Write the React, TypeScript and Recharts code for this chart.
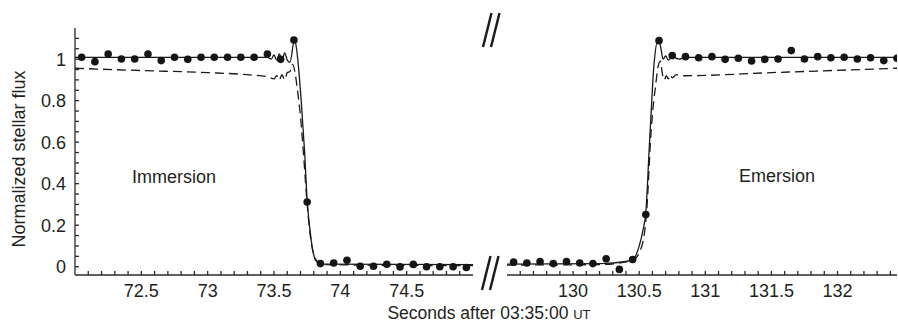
import React from 'react';
import { ComposedChart, Line, Scatter, XAxis, YAxis } from 'recharts';

const FONT = '"Liberation Sans", Arial, Helvetica, sans-serif';
const INK = '#231f20';

// measured flux, 0.1 s samples
const immersionTimes = [72.05, 72.15, 72.25, 72.35, 72.45, 72.55, 72.65, 72.75, 72.85, 72.95, 73.05, 73.15, 73.25, 73.35, 73.45, 73.55, 73.65, 73.75, 73.85, 73.95, 74.05, 74.15, 74.25, 74.35, 74.45, 74.55, 74.65, 74.75, 74.85, 74.95];
const immersionFlux = [1.009, 0.988, 1.025, 1.001, 1.001, 1.025, 0.993, 1.009, 0.999, 1.009, 1.009, 1.009, 1.009, 1.009, 1.025, 0.999, 1.092, 0.312, 0.015, 0.018, 0.031, 0.002, 0.002, 0.012, -0.001, 0.011, 0.0, 0.0, 0.0, -0.004];

const emersionTimes = [129.55, 129.65, 129.75, 129.85, 129.95, 130.05, 130.15, 130.25, 130.35, 130.45, 130.55, 130.65, 130.75, 130.85, 130.95, 131.05, 131.15, 131.25, 131.35, 131.45, 131.55, 131.65, 131.75, 131.85, 131.95, 132.05, 132.15, 132.25, 132.35, 132.45];
const emersionFlux = [0.022, 0.018, 0.025, 0.015, 0.025, 0.018, 0.015, 0.038, -0.013, 0.035, 0.251, 1.089, 1.017, 1.012, 1.007, 1.012, 0.999, 1.004, 0.991, 0.999, 1.001, 1.041, 1.001, 1.012, 1.007, 1.009, 1.001, 1.007, 0.993, 1.004];

// fitted model (solid)
const immersionModelTimes = [72.0, 73.45, 73.48, 73.5, 73.52, 73.54, 73.56, 73.58, 73.6, 73.62, 73.655, 73.67, 73.685, 73.705, 73.73, 73.75, 73.78, 73.815, 73.86, 75.0];
const immersionModelFlux = [1.008, 1.008, 1.0, 1.02, 0.995, 1.025, 0.99, 1.03, 0.995, 0.985, 1.095, 1.05, 0.96, 0.8, 0.56, 0.32, 0.13, 0.03, 0.012, 0.01];

// model without the extra term (dashed)
const immersionAltTimes = [72.0, 72.5, 73.0, 73.3, 73.45, 73.5, 73.52, 73.54, 73.56, 73.58, 73.6, 73.62, 73.64, 73.66, 73.675, 73.7, 73.725, 73.75, 73.78, 73.82, 73.86, 75.0];
const immersionAltFlux = [0.956, 0.945, 0.935, 0.925, 0.915, 0.905, 0.92, 0.9, 0.925, 0.9, 0.935, 0.94, 0.975, 0.93, 0.86, 0.72, 0.52, 0.3, 0.12, 0.03, 0.01, 0.005];

const emersionModelTimes = [129.5, 130.2, 130.4, 130.46, 130.5, 130.53, 130.55, 130.575, 130.595, 130.61, 130.645, 130.665, 130.68, 130.7, 130.72, 130.75, 130.8, 130.85, 132.45];
const emersionModelFlux = [0.012, 0.015, 0.025, 0.04, 0.1, 0.18, 0.26, 0.56, 0.8, 0.96, 1.095, 1.05, 1.0, 1.015, 0.995, 1.012, 1.0, 1.008, 1.008];

const emersionAltTimes = [129.5, 130.2, 130.45, 130.52, 130.56, 130.585, 130.61, 130.62, 130.645, 130.66, 130.675, 130.69, 130.705, 130.72, 130.735, 130.75, 130.78, 130.85, 131.5, 132.45];
const emersionAltFlux = [0.008, 0.01, 0.03, 0.1, 0.3, 0.6, 0.8, 0.85, 0.97, 0.99, 0.93, 0.9, 0.92, 0.905, 0.925, 0.91, 0.925, 0.92, 0.935, 0.956];

// axes
const leftTicks = [72.1, 72.2, 72.3, 72.4, 72.5, 72.6, 72.7, 72.8, 72.9, 73.0, 73.1, 73.2, 73.3, 73.4, 73.5, 73.6, 73.7, 73.8, 73.9, 74.0, 74.1, 74.2, 74.3, 74.4, 74.5, 74.6, 74.7, 74.8, 74.9];
const leftLabels = [72.5, 73, 73.5, 74, 74.5];
const rightTicks = [129.6, 129.7, 129.8, 129.9, 130.0, 130.1, 130.2, 130.3, 130.4, 130.5, 130.6, 130.7, 130.8, 130.9, 131.0, 131.1, 131.2, 131.3, 131.4, 131.5, 131.6, 131.7, 131.8, 131.9, 132.0, 132.1, 132.2, 132.3, 132.4];
const rightLabels = [130, 130.5, 131, 131.5, 132];
const yTicks = [0, 0.05, 0.1, 0.15, 0.2, 0.25, 0.3, 0.35, 0.4, 0.45, 0.5, 0.55, 0.6, 0.65, 0.7, 0.75, 0.8, 0.85, 0.9, 0.95, 1.0, 1.05, 1.1];
const yLabels = [0, 0.2, 0.4, 0.6, 0.8, 1];

const zip = (ts: number[], fs: number[]) => ts.map((t, i) => ({ t, f: fs[i] }));

const labelOnly = (labels: number[]) => (v: number) =>
  labels.some((l) => Math.abs(l - v) < 1e-6) ? String(Number(v.toFixed(2))) : '';

const Dot = (props: any) => <circle cx={props.cx} cy={props.cy} r={3.8} fill="#151515" />;

const axisStyle = { stroke: '#2a2a2a', strokeWidth: 1.3 };
const tickStyle = { fill: INK, fontSize: 18, fontFamily: FONT };

type PanelProps = {
  width: number;
  left: number;
  margin: { top: number; right: number; bottom: number; left: number };
  domain: [number, number];
  ticks: number[];
  labels: number[];
  points: { t: number; f: number }[];
  model: { t: number; f: number }[];
  alt: { t: number; f: number }[];
  showY: boolean;
};

const Panel: React.FC<PanelProps> = ({ width, left, margin, domain, ticks, labels, points, model, alt, showY }) => (
  <div style={{ position: 'absolute', left, top: 0 }}>
    <ComposedChart width={width} height={324} margin={margin}>
      <XAxis
        xAxisId="top"
        orientation="top"
        type="number"
        dataKey="t"
        domain={domain}
        allowDataOverflow
        ticks={ticks}
        interval={0}
        tick={false}
        tickSize={-4}
        height={0}
        axisLine={axisStyle}
        tickLine={axisStyle}
      />
      <XAxis
        type="number"
        dataKey="t"
        domain={domain}
        allowDataOverflow
        ticks={ticks}
        interval={0}
        tickFormatter={labelOnly(labels)}
        tickSize={-4}
        tickMargin={13}
        height={30}
        axisLine={axisStyle}
        tickLine={axisStyle}
        tick={tickStyle}
      />
      <YAxis
        type="number"
        dataKey="f"
        domain={[-0.04, 1.15]}
        allowDataOverflow
        ticks={yTicks}
        interval={0}
        tickFormatter={labelOnly(yLabels)}
        tickSize={-4}
        tickMargin={13}
        width={45}
        hide={!showY}
        axisLine={axisStyle}
        tickLine={axisStyle}
        tick={tickStyle}
      />
      <Line data={alt} dataKey="f" type="monotone" stroke="#1a1a1a" strokeWidth={1.3} strokeDasharray="9 5" dot={false} isAnimationActive={false} />
      <Line data={model} dataKey="f" type="monotone" stroke="#1a1a1a" strokeWidth={1.3} dot={false} isAnimationActive={false} />
      <Scatter data={points} dataKey="f" shape={Dot} isAnimationActive={false} />
    </ComposedChart>
  </div>
);

export default function App() {
  const breakLine = { stroke: '#1a1a1a', strokeWidth: 2.4 };
  return (
    <div style={{ position: 'absolute', left: 0, top: 0, width: 898, height: 324, background: '#fff', overflow: 'hidden' }}>
      <Panel
        width={480}
        left={0}
        margin={{ top: 28, right: 7, bottom: 19, left: 30 }}
        domain={[72, 75]}
        ticks={leftTicks}
        labels={leftLabels}
        points={zip(immersionTimes, immersionFlux)}
        model={zip(immersionModelTimes, immersionModelFlux)}
        alt={zip(immersionAltTimes, immersionAltFlux)}
        showY
      />
      <Panel
        width={418}
        left={480}
        margin={{ top: 28, right: 1, bottom: 19, left: 27 }}
        domain={[129.5, 132.45]}
        ticks={rightTicks}
        labels={rightLabels}
        points={zip(emersionTimes, emersionFlux)}
        model={zip(emersionModelTimes, emersionModelFlux)}
        alt={zip(emersionAltTimes, emersionAltFlux)}
        showY={false}
      />
      <svg width={898} height={324} style={{ position: 'absolute', left: 0, top: 0, pointerEvents: 'none' }}>
        <line x1={483} y1={47} x2={491.5} y2={13} {...breakLine} />
        <line x1={491} y1={47} x2={499.5} y2={13} {...breakLine} />
        <line x1={482} y1={290} x2={490.5} y2={256} {...breakLine} />
        <line x1={490} y1={290} x2={498.5} y2={256} {...breakLine} />
        <text
          transform="translate(25, 159) rotate(-90)"
          textAnchor="middle"
          fontSize={18}
          fontFamily={FONT}
          fill={INK}
        >
          Normalized stellar flux
        </text>
        <text x={489} y={319} textAnchor="middle" fontSize={17.5} fontFamily={FONT} fill={INK}>
          Seconds after 03:35:00 <tspan fontSize={13}>UT</tspan>
        </text>
        <text x={174} y={183} textAnchor="middle" fontSize={18} fontFamily={FONT} fill={INK}>
          Immersion
        </text>
        <text x={777} y={182} textAnchor="middle" fontSize={18} fontFamily={FONT} fill={INK}>
          Emersion
        </text>
      </svg>
    </div>
  );
}
